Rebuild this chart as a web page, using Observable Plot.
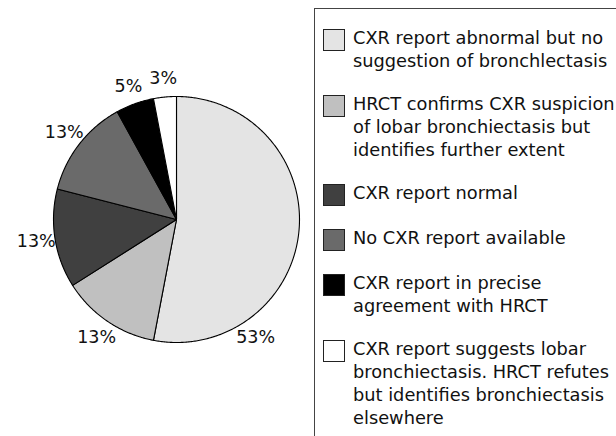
<!DOCTYPE html>
<html><head><meta charset="utf-8">
<script src="https://cdn.jsdelivr.net/npm/d3@7"></script>
<script src="https://cdn.jsdelivr.net/npm/@observablehq/plot@0.6"></script>
<style>
html,body{margin:0;padding:0;background:#fff}
body{width:616px;height:436px;overflow:hidden;position:relative;font-family:"DejaVu Sans",sans-serif;color:#111}
#chart{position:absolute;left:0;top:0}
#legend{position:absolute;left:314px;top:8px;width:330px;height:460px;border:1px solid #444;box-sizing:border-box}
#items{position:absolute;left:8px;top:17px;display:flex;flex-direction:column;gap:20px}
.item{display:flex;align-items:flex-start}
.sw{width:20px;height:20px;border:1px solid #222;margin-top:3px;flex:none}
.tx{margin-left:8px;font-size:17.8px;line-height:23px;white-space:nowrap}
</style></head>
<body>
<div id="chart"></div>
<div id="legend"><div id="items"></div></div>
<script>
const categories = [
  "CXR report abnormal but no|suggestion of bronchlectasis",
  "HRCT confirms CXR suspicion|of lobar bronchiectasis but|identifies further extent",
  "CXR report normal",
  "No CXR report available",
  "CXR report in precise|agreement with HRCT",
  "CXR report suggests lobar|bronchiectasis. HRCT refutes|but identifies bronchiectasis|elsewhere"
];
const values = [53, 13, 13, 13, 5, 3];
const colors = ["#e4e4e4", "#c0c0c0", "#404040", "#6a6a6a", "#000000", "#ffffff"];

// layout
const W = 616, H = 436, cx = 176, cy = 219, R = 123, labelOffset = 19;

const data = categories.map((c, i) => ({cat: c, value: values[i]}));
const arcs = d3.pie().sort(null).value(d => d.value)(data);

const points = [];
for (const a of arcs) {
  points.push({cat: a.data.cat, x: 0, y: 0});
  const n = Math.max(2, Math.ceil((a.endAngle - a.startAngle) / 0.01));
  for (let k = 0; k <= n; k++) {
    const t = a.startAngle + (a.endAngle - a.startAngle) * k / n;
    points.push({cat: a.data.cat, x: Math.sin(t), y: Math.cos(t)});
  }
}

const lr = (R + labelOffset) / R;
const labels = arcs.map(a => {
  const span = a.endAngle - a.startAngle;
  // a slice larger than half the pie gets its label near its trailing edge
  const t = span > Math.PI ? a.endAngle - 0.78 : (a.startAngle + a.endAngle) / 2;
  return {x: lr * Math.sin(t), y: lr * Math.cos(t), text: `${a.data.value}%`};
});

const plot = Plot.plot({
  width: W, height: H, margin: 0,
  x: {domain: [-1, 1], range: [cx - R, cx + R], axis: null},
  y: {domain: [-1, 1], range: [cy + R, cy - R], axis: null},
  color: {type: "ordinal", domain: categories, range: colors},
  style: {fontFamily: "'DejaVu Sans', sans-serif", background: "transparent"},
  marks: [
    Plot.line(points, {x: "x", y: "y", z: "cat", fill: "cat", stroke: "#000", strokeWidth: 1.1, curve: "linear-closed", strokeLinejoin: "round"}),
    Plot.text(labels, {x: "x", y: "y", text: "text", fontSize: 17.5, fill: "#111", textAnchor: "middle", lineAnchor: "middle"})
  ]
});
document.getElementById("chart").appendChild(plot);

const items = document.getElementById("items");
categories.forEach((c, i) => {
  const it = document.createElement("div");
  it.className = "item";
  const sw = document.createElement("div");
  sw.className = "sw";
  sw.style.background = colors[i];
  const tx = document.createElement("div");
  tx.className = "tx";
  tx.innerHTML = c.split("|").join("<br>");
  it.appendChild(sw); it.appendChild(tx);
  items.appendChild(it);
});
</script>
</body></html>
